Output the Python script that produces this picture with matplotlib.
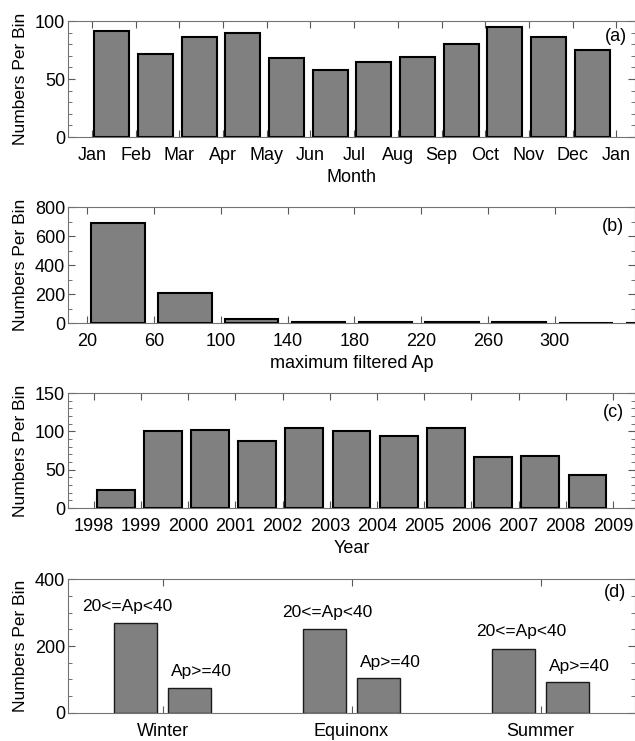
import matplotlib
matplotlib.use("Agg")
import matplotlib.pyplot as plt
import numpy as np
from matplotlib.ticker import MultipleLocator

plt.rcParams['font.family'] = ['Liberation Sans', 'DejaVu Sans']
plt.rcParams['font.size'] = 13

# (a) events per month
months = ["Jan", "Feb", "Mar", "Apr", "May", "Jun", "Jul", "Aug", "Sep", "Oct", "Nov", "Dec", "Jan"]
month_counts = [91, 72, 86, 90, 68, 58, 65, 69, 80, 95, 86, 75]

# (b) events per maximum filtered Ap bin
ap_bins = [20, 60, 100, 140, 180, 220, 260, 300, 340]
ap_counts = [690, 205, 30, 9, 8, 5, 5, 3, 2]
ap_ticks = [20, 60, 100, 140, 180, 220, 260, 300]

# (c) events per year
years = list(range(1998, 2010))
year_counts = [24, 101, 102, 88, 104, 101, 94, 104, 67, 68, 43]

# (d) events per season, split by Ap level
seasons = ["Winter", "Equinonx", "Summer"]
low_ap = [268, 251, 192]
high_ap = [76, 105, 92]
low_label = "20<=Ap<40"
high_label = "Ap>=40"
# small horizontal nudges of the hand-placed labels
low_label_dx = [-0.045, 0.015, 0.042]

fig = plt.figure(figsize=(6.35, 7.41), dpi=100)

bar_kw = dict(color="#808080", edgecolor="black", linewidth=1.5, align="edge")


def style(ax):
    for s in ax.spines.values():
        s.set_color("0.45")
    ax.tick_params(which="both", direction="in", top=True, right=True, color="0.35")
    ax.tick_params(which="major", length=5)
    ax.tick_params(axis="x", pad=7)
    ax.tick_params(axis="y", pad=2)
    ax.tick_params(which="minor", length=3, top=False, bottom=False)
    ax.set_ylabel("Numbers Per Bin", fontsize=12.5)
    ax.yaxis.set_label_coords(-0.07, 0.5)


# (a)
ax = fig.add_axes([0.1071, 0.8151, 0.893, 0.1565])
ax.bar(np.arange(12) + 0.05, month_counts, width=0.8, **bar_kw)
ax.set_xlim(-0.55, 12.43)
ax.set_ylim(0, 100)
ax.set_xticks(np.arange(13))
ax.set_xticklabels(months)
ax.set_yticks([0, 50, 100])
ax.yaxis.set_minor_locator(MultipleLocator(10))
ax.set_xlabel("Month", labelpad=4)
ax.text(0.985, 0.87, "(a)", transform=ax.transAxes, ha="right", va="center")
style(ax)

# (b)
ax = fig.add_axes([0.1071, 0.5641, 0.893, 0.1565])
ax.bar(np.array(ap_bins) + 2.5, ap_counts, width=32, **bar_kw)
ax.set_xlim(8.6, 348)
ax.set_ylim(0, 800)
ax.set_xticks(ap_ticks)
ax.set_yticks([0, 200, 400, 600, 800])
ax.yaxis.set_minor_locator(MultipleLocator(100))
ax.set_xlabel("maximum filtered Ap", labelpad=4)
ax.text(0.98, 0.83, "(b)", transform=ax.transAxes, ha="right", va="center")
style(ax)

# (c)
ax = fig.add_axes([0.1071, 0.3144, 0.893, 0.1552])
ax.bar(np.array(years[:-1]) + 0.06, year_counts, width=0.8, **bar_kw)
ax.set_xlim(1997.45, 2009.47)
ax.set_ylim(0, 150)
ax.set_xticks(years)
ax.set_yticks([0, 50, 100, 150])
ax.yaxis.set_minor_locator(MultipleLocator(10))
ax.set_xlabel("Year", labelpad=4)
ax.text(0.98, 0.835, "(c)", transform=ax.transAxes, ha="right", va="center")
style(ax)

# (d)
ax = fig.add_axes([0.1071, 0.0378, 0.893, 0.1808])
pos = np.arange(1, 4)
ax.bar(pos - 0.143, low_ap, width=0.225, color="#808080", edgecolor="0.1", linewidth=1)
ax.bar(pos + 0.143, high_ap, width=0.225, color="#808080", edgecolor="0.1", linewidth=1)
for x, h, dx in zip(pos, low_ap, low_label_dx):
    ax.text(x - 0.143 + dx, h + 50, low_label, ha="center", va="center", fontsize=12.5)
for x, h in zip(pos, high_ap):
    ax.text(x + 0.207, h + 47, high_label, ha="center", va="center", fontsize=12.5)
ax.set_xlim(0.5, 3.5)
ax.set_ylim(0, 400)
ax.set_xticks(pos)
ax.set_xticklabels(seasons)
ax.set_yticks([0, 200, 400])
ax.yaxis.set_minor_locator(MultipleLocator(50))
ax.text(0.985, 0.9, "(d)", transform=ax.transAxes, ha="right", va="center")
style(ax)

fig.savefig("out.png", dpi=100)
